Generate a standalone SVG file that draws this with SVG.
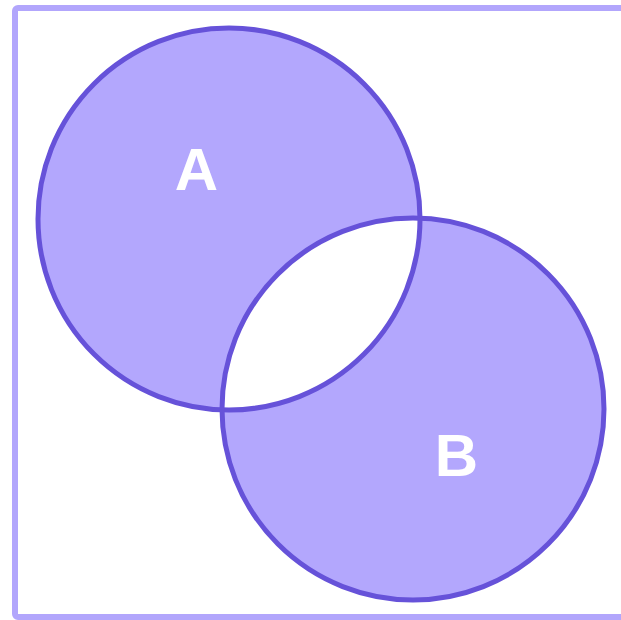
<svg xmlns="http://www.w3.org/2000/svg" width="621" height="620" viewBox="0 0 621 620">
<style>
.ring{fill:none;stroke:#6652d9;stroke-width:5}
.lbl{font-family:"Liberation Sans",Arial,sans-serif;font-weight:bold;font-size:60px;fill:#ffffff;text-anchor:middle}
</style>
<rect x="15" y="8" width="612" height="609" rx="3" fill="#ffffff" stroke="#b2a6fc" stroke-width="6"/>
<g id="fill">
<path fill="#b3a7fd" fill-rule="evenodd" d="M38,219a191,191 0 1,0 382,0a191,191 0 1,0 -382,0Z M222,409a191,191 0 1,0 382,0a191,191 0 1,0 -382,0Z"/>
</g>
<g id="A">
<circle class="ring" cx="229" cy="219" r="191"/>
<text class="lbl" x="196.5" y="190">A</text>
</g>
<g id="B">
<circle class="ring" cx="413" cy="409" r="191"/>
<text class="lbl" x="456.5" y="476">B</text>
</g>
<g id="connectors"/>
</svg>
